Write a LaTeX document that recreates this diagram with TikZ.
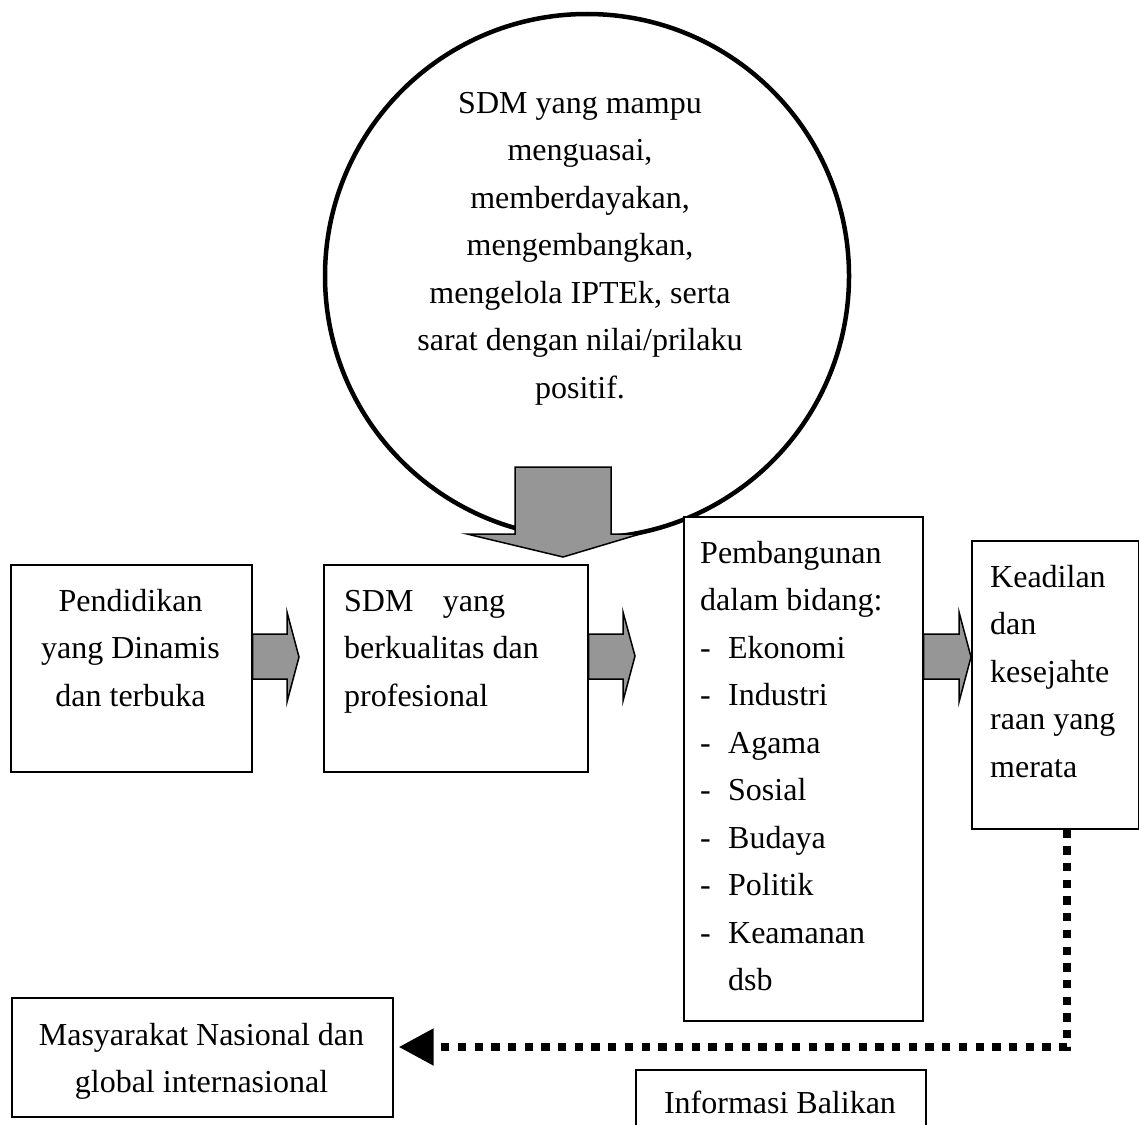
\documentclass[tikz,border=0pt]{standalone}
\usepackage{fontspec}
\setmainfont{Liberation Serif}
\usetikzlibrary{arrows.meta}
\definecolor{arrowgray}{RGB}{150,150,150}
\newcommand\tbox[3]{\parbox[t]{#1}{\fontsize{32}{47.5}\selectfont#2 #3}}
\begin{document}
\begin{tikzpicture}[x=1pt,y=-1pt,
  box/.style={draw, line width=1.6pt, fill=white, inner sep=0pt, anchor=north west},
  txt/.style={inner sep=0pt, anchor=base},
  txtl/.style={inner sep=0pt, anchor=base west},
  blockarrow/.style={draw, line width=1.5pt, fill=arrowgray, line join=miter},
  dotline/.style={line width=8pt, dash pattern=on 8.3pt off 8.4pt}]
\useasboundingbox (0,0) rectangle (1139,1124);

% big circle
\node[circle, draw, line width=4.5pt, minimum size=524pt, inner sep=0pt] (c) at (587,276) {};
\node[txt] (ct) at (580,113) {\tbox{440pt}{\centering}{SDM yang mampu\\menguasai,\\memberdayakan,\\mengembangkan,\\mengelola IPTEk, serta\\sarat dengan nilai/prilaku\\positif.}};

% down block arrow
\draw[blockarrow] (515,467) -- (611,467) -- (611,534) -- (640,534) -- (563,557) -- (467,534) -- (515,534) -- cycle;

% boxes
\node[box, minimum width=241pt, minimum height=207pt] (b1) at (10,564) {};
\node[box, minimum width=264pt, minimum height=207pt] (b2) at (323,564) {};
\node[box, minimum width=239pt, minimum height=504pt] (b3) at (683,516) {};
\node[box, minimum width=167pt, minimum height=288pt] (b4) at (971,540) {};
\node[box, minimum width=381pt, minimum height=119pt] (b5) at (11,997) {};
\node[box, minimum width=290pt, minimum height=90pt] (b6) at (635,1069) {};

% texts
\node[txt] (t1) at (130.5,611) {\tbox{240pt}{\centering}{Pendidikan\\yang Dinamis\\dan terbuka}};
\node[txtl] (t2) at (344,611) {\tbox{230pt}{\raggedright}{\makebox[161pt][s]{SDM yang}\\berkualitas dan\\profesional}};
\node[txtl] (t3) at (700,563) {\tbox{220pt}{\raggedright}{Pembangunan\\dalam bidang:\\\makebox[28pt][l]{-}Ekonomi\\\makebox[28pt][l]{-}Industri\\\makebox[28pt][l]{-}Agama\\\makebox[28pt][l]{-}Sosial\\\makebox[28pt][l]{-}Budaya\\\makebox[28pt][l]{-}Politik\\\makebox[28pt][l]{-}Keamanan\\\hspace*{28pt}dsb}};
\node[txtl] (t4) at (990,587) {\tbox{150pt}{\raggedright}{Keadilan\\dan\\kesejahte\\raan yang\\merata}};
\node[txt] (t5) at (201.5,1045) {\tbox{380pt}{\centering}{Masyarakat Nasional dan\\global internasional}};
\node[txt] (t6) at (780,1113) {\tbox{290pt}{\centering}{Informasi Balikan}};

% side block arrows
\draw[blockarrow] (b1.east |- 0,634) -- (287,634) -- (287,612) -- (299,657) -- (287,702) -- (287,679) -- (b1.east |- 0,679) -- cycle;
\draw[blockarrow] (b2.east |- 0,634) -- (623,634) -- (623,612) -- (635,656) -- (623,701) -- (623,679) -- (b2.east |- 0,679) -- cycle;
\draw[blockarrow] (b3.east |- 0,634) -- (959,634) -- (959,612) -- (971,657) -- (959,702) -- (959,679) -- (b3.east |- 0,679) -- cycle;

% dotted feedback connector
\coordinate (dc) at (1067,1047);
\draw[dotline, -{Triangle[length=35pt,width=35pt]}, shorten >=5pt] (b4.south -| dc) -- (dc) -- (dc -| b5.east);
\end{tikzpicture}
\end{document}
